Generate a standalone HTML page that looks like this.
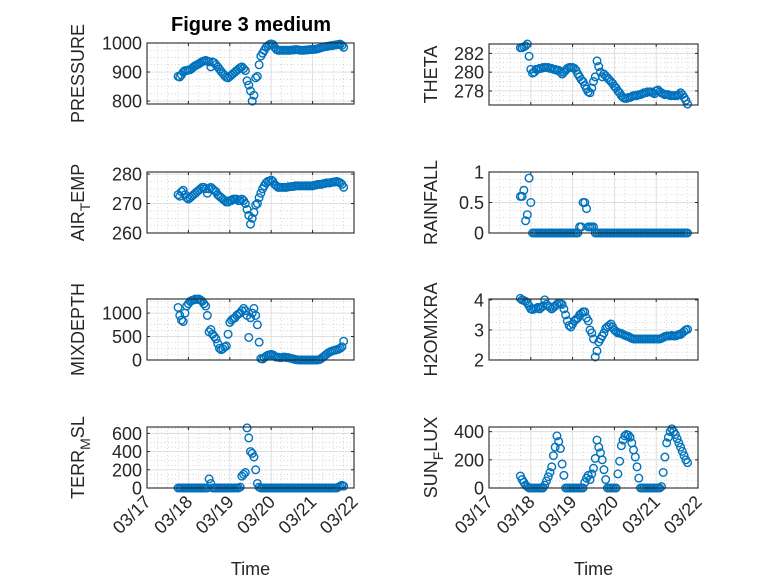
<!DOCTYPE html>
<html><head><meta charset="utf-8"><style>
html,body{margin:0;padding:0;background:#fff;}
svg{display:block;font-family:"Liberation Sans","DejaVu Sans",sans-serif;}
</style></head><body>
<svg id="fig" width="778" height="583" viewBox="0 0 778 583" xmlns="http://www.w3.org/2000/svg">
<rect width="778" height="583" fill="#fff"/>
<text x="251" y="31" text-anchor="middle" font-size="20" font-weight="bold" fill="#000">Figure 3 medium</text>
</svg>
<script>
// time in days since 03/17 00:00 (hourly samples)
const t0 = 0.75;
const xTickLabels = ["03/17","03/18","03/19","03/20","03/21","03/22"];
const pressure = [885,883,890,900,905,905,907,908,912,918,922,925,928,932,936,938,940,938,935,918,935,932,925,918,910,902,895,888,882,880,885,890,895,900,905,910,915,918,912,905,870,855,835,800,820,880,885,925,955,965,975,985,990,995,997,995,985,978,975,975,975,975,975,975,975,975,976,976,977,977,976,975,975,975,976,976,977,977,978,978,979,980,982,984,986,987,988,989,990,991,992,993,994,995,996,992,985];
const airTemp = [273,272.5,274,274.5,273,272,271.5,272,272.5,273,273.5,274,274.5,275,275.5,275.5,275,273.5,275,275.5,275,274.5,274,273,272.5,272,271.5,271,270.5,270.5,271,271,271.5,271.5,271.5,271,271,271.5,271,270,268,266,263,265,267,269.5,270,272,273.5,275,276,277,277.5,277.5,278,277.5,276.5,276,275.5,275.5,275.5,275.5,275.5,275.5,275.7,275.7,275.8,275.8,276,276,276,276,276,276,276,276,276,276,276,276.2,276.3,276.5,276.5,276.5,276.7,276.8,277,277,277,277.2,277.3,277.3,277.5,277.3,277,276.5,275.5];
const mixDepth = [1120,950,850,820,1000,1150,1200,1250,1270,1280,1300,1290,1300,1280,1250,1200,1150,950,600,650,550,500,450,350,250,220,240,280,300,550,800,850,880,900,950,980,1000,1050,1100,1050,950,480,900,1000,1100,950,750,380,30,20,50,80,100,110,120,110,80,60,60,50,50,60,60,50,50,40,30,20,10,5,0,0,0,0,0,0,0,0,0,0,0,0,10,30,60,90,120,150,170,190,200,210,220,230,250,280,400];
const terrMsl = [0,0,0,0,0,0,0,0,0,0,0,0,0,0,0,0,0,0,100,50,0,0,0,0,0,0,0,0,0,0,0,0,0,0,0,0,10,130,150,170,660,550,400,380,340,200,50,10,0,0,0,0,0,0,0,0,0,0,0,0,0,0,0,0,0,0,0,0,0,0,0,0,0,0,0,0,0,0,0,0,0,0,0,0,0,0,0,0,0,0,0,0,0,10,20,30,20];
const theta = [282.6,282.6,282.7,282.8,283,281.7,280.3,279.9,280,280.3,280.3,280.4,280.4,280.5,280.5,280.5,280.5,280.4,280.4,280.3,280.3,280.2,280.2,280,279.8,280,280.2,280.4,280.5,280.5,280.5,280.4,280.2,279.8,279.5,279.2,279,278.6,278.2,277.9,277.8,278.3,279,279.5,281.2,280.6,280,279.5,279.8,279.6,279.4,279.2,279,278.8,278.5,278.3,278,277.8,277.5,277.3,277.2,277.2,277.3,277.3,277.4,277.5,277.5,277.5,277.6,277.6,277.7,277.8,277.8,277.9,277.9,277.9,277.8,277.7,278,278.1,277.9,277.8,277.7,277.6,277.6,277.6,277.5,277.5,277.5,277.5,277.5,277.6,277.8,277.6,277.3,277,276.6];
const rainfall = [0.6,0.6,0.7,0.2,0.3,0.9,0.5,0,0,0,0,0,0,0,0,0,0,0,0,0,0,0,0,0,0,0,0,0,0,0,0,0,0,0,0.1,0.1,0.5,0.5,0.4,0.1,0.1,0.1,0.1,0,0,0,0,0,0,0,0,0,0,0,0,0,0,0,0,0,0,0,0,0,0,0,0,0,0,0,0,0,0,0,0,0,0,0,0,0,0,0,0,0,0,0,0,0,0,0,0,0,0,0,0,0,0];
const h2oMix = [4.05,4.0,3.98,3.95,3.9,3.8,3.7,3.68,3.7,3.72,3.75,3.7,3.75,3.8,4.0,3.85,3.8,3.75,3.7,3.75,3.8,3.85,3.9,3.88,3.85,3.7,3.5,3.3,3.15,3.1,3.2,3.3,3.35,3.4,3.5,3.55,3.6,3.6,3.4,3.3,3.0,2.9,2.7,2.1,2.3,2.6,2.7,2.8,2.9,3.05,3.1,3.15,3.2,3.1,3.0,2.95,2.9,2.9,2.88,2.85,2.82,2.8,2.78,2.75,2.72,2.7,2.7,2.7,2.7,2.7,2.7,2.7,2.7,2.7,2.7,2.7,2.7,2.7,2.7,2.7,2.7,2.72,2.75,2.78,2.8,2.8,2.8,2.82,2.8,2.8,2.82,2.85,2.85,2.9,2.95,3.0,3.02];
const sunFlux = [85,60,40,20,10,0,0,0,0,0,0,0,0,0,20,50,80,110,150,230,290,370,330,280,170,90,0,0,0,0,0,0,0,0,0,0,0,40,70,90,60,100,140,210,340,290,250,200,130,60,0,0,0,0,0,0,100,190,300,340,370,380,375,360,320,270,220,150,70,0,0,0,0,0,0,0,0,0,0,0,0,10,110,220,320,360,400,420,400,380,350,320,290,260,230,200,180];

const panels = [
 {name:"pressure", label:"PRESSURE", data:pressure, col:0, top:43, ymin:790, ymax:1000, ticks:[800,900,1000], minor:25},
 {name:"air-temp", label:["AIR","T","EMP"], data:airTemp, col:0, top:172, ymin:260, ymax:280.7, ticks:[260,270,280], minor:2.5},
 {name:"mixdepth", label:"MIXDEPTH", data:mixDepth, col:0, top:299, ymin:0, ymax:1300, ticks:[0,500,1000], minor:125},
 {name:"terr-msl", label:["TERR","M","SL"], data:terrMsl, col:0, top:427, ymin:0, ymax:670, ticks:[0,200,400,600], minor:50},
 {name:"theta", label:"THETA", data:theta, col:1, top:44, ymin:276.5, ymax:283, ticks:[278,280,282], minor:0.5},
 {name:"rainfall", label:"RAINFALL", data:rainfall, col:1, top:172, ymin:0, ymax:1, ticks:[0,0.5,1], minor:0.125},
 {name:"h2omixra", label:"H2OMIXRA", data:h2oMix, col:1, top:299, ymin:2, ymax:4.03, ticks:[2,3,4], minor:0.25},
 {name:"sun-flux", label:["SUN","F","LUX"], data:sunFlux, col:1, top:427, ymin:0, ymax:433, ticks:[0,200,400], minor:50}
];
const colX = [[147,354],[489,698]];
const H = 61;
const NS = "http://www.w3.org/2000/svg";
const svg = document.getElementById("fig");
function mk(tag, attrs, parent){const e=document.createElementNS(NS,tag);for(const k in attrs)e.setAttribute(k,attrs[k]);(parent||svg).appendChild(e);return e;}

panels.forEach(p=>{
  const [x0,x1]=colX[p.col], y0=p.top, y1=p.top+H;
  const xs = d => x0+(d-0)/(5-0)*(x1-x0);
  const ys = v => y1-(v-p.ymin)/(p.ymax-p.ymin)*(y1-y0);
  const g = mk("g",{});
  
  
  mk("rect",{x:x0,y:y0,width:x1-x0,height:H,fill:"#fff"},g);
  for(let d=0; d<=5.0001; d+=0.25){ if(Math.abs(d-Math.round(d))<1e-6) continue;
    mk("line",{x1:xs(d),x2:xs(d),y1:y0,y2:y1,stroke:"#bdbdbd","stroke-width":0.6,"stroke-dasharray":"1 2.5"},g);}
  for(let v=Math.ceil(p.ymin/p.minor)*p.minor; v<=p.ymax+1e-9; v+=p.minor){ if(p.ticks.some(t=>Math.abs(t-v)<1e-9)) continue;
    mk("line",{x1:x0,x2:x1,y1:ys(v),y2:ys(v),stroke:"#bdbdbd","stroke-width":0.6,"stroke-dasharray":"1 2.5"},g);}
  for(let d=1; d<5; d++) mk("line",{x1:xs(d),x2:xs(d),y1:y0,y2:y1,stroke:"#dcdcdc","stroke-width":0.9},g);
  p.ticks.forEach(v=>{ mk("line",{x1:x0,x2:x1,y1:ys(v),y2:ys(v),stroke:"#dcdcdc","stroke-width":0.9},g);});
  for(let d=0; d<=5; d++){ mk("line",{x1:xs(d),x2:xs(d),y1:y1,y2:y1-3,stroke:"#262626","stroke-width":1},g); mk("line",{x1:xs(d),x2:xs(d),y1:y0,y2:y0+3,stroke:"#262626","stroke-width":1},g);}
  p.ticks.forEach(v=>{ mk("line",{x1:x0,x2:x0+3,y1:ys(v),y2:ys(v),stroke:"#262626","stroke-width":1},g); mk("line",{x1:x1,x2:x1-3,y1:ys(v),y2:ys(v),stroke:"#262626","stroke-width":1},g);
    const tx=mk("text",{x:x0-5,y:ys(v)+6.5,"text-anchor":"end","font-size":18,fill:"#262626"},g); tx.textContent=String(v);
    
    
  });
  const sg = mk("g",{fill:"none",stroke:"#0072BD","stroke-width":1.4},g);
  
  
  p.data.forEach((v,i)=>{ const c=mk("circle",{cx:xs(t0+i/24),cy:ys(v),r:3.8},sg);
    
    
  });
  mk("rect",{x:x0,y:y0,width:x1-x0,height:H,fill:"none",stroke:"#262626","stroke-width":1.1},g);
  const lx = p.col===0?84:437, ly=(y0+y1)/2;
  const lab = mk("text",{x:lx,y:ly,"text-anchor":"middle","font-size":18,fill:"#262626",transform:`rotate(-90 ${lx} ${ly})`},g);
  
  
  if(typeof p.label==="string") lab.textContent=p.label;
  else { const a=mk("tspan",{},lab); a.textContent=p.label[0];
    const b=mk("tspan",{dy:6,"font-size":14},lab); b.textContent=p.label[1];
    const c=mk("tspan",{dy:-6},lab); c.textContent=p.label[2]; }
  if(p.top===427){
    xTickLabels.forEach((s,d)=>{ const x=xs(d)+5, y=y1+15;
      const tt=mk("text",{x:x,y:y,"text-anchor":"end","font-size":18,fill:"#262626",transform:`rotate(-45 ${x} ${y})`},g); tt.textContent=s;
      
      
    });
    const xt=mk("text",{x:(x0+x1)/2,y:575,"text-anchor":"middle","font-size":18,fill:"#262626"},g); xt.textContent="Time";
    
    
  }
});
</script>
</body></html>
